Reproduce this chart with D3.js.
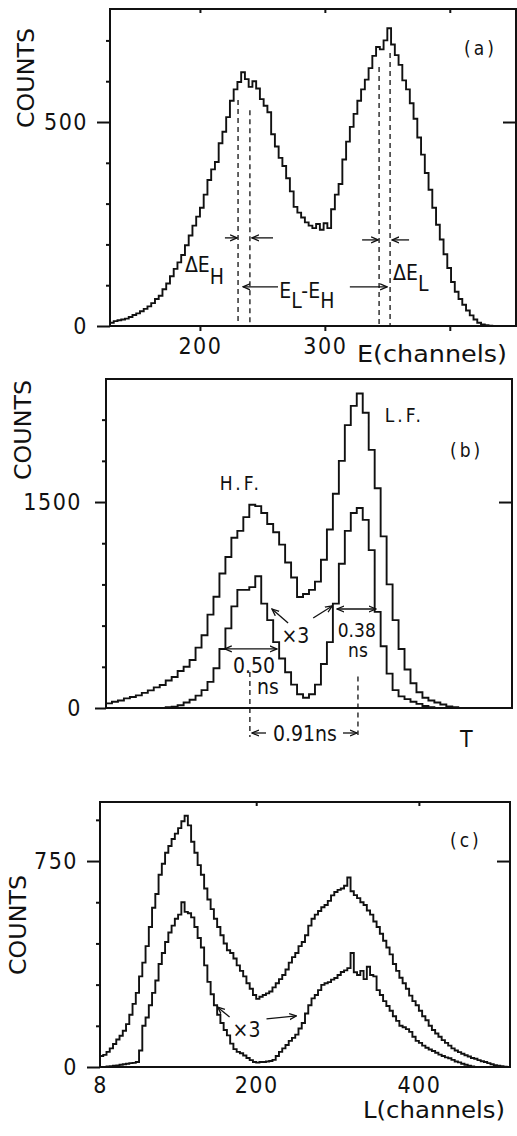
<!DOCTYPE html>
<html>
<head>
<meta charset="utf-8">
<script src="https://cdn.jsdelivr.net/npm/d3@7"></script>
<style>
  body { margin: 0; background: #fff; }
  svg text { font-family: "DejaVu Sans Condensed", "DejaVu Sans", sans-serif; fill: #111; }
  .tick text { font-size: 23px; letter-spacing: 1.5px; }
  .axis-title { font-size: 23px; }
  .note { font-size: 21px; }
  .small { font-size: 19px; }
  .tag { font-size: 19px; letter-spacing: 3px; }
</style>
</head>
<body>
<div id="chart"></div>
<script>
// 1: DATA

// (a) energy spectrum, 3-channel bins starting at channel 128
const eStart = 128, eStep = 3;
const eCounts = [
  8, 12, 14, 16, 18, 22, 27, 31, 36, 42,
  48, 56, 66, 74, 90, 104, 122, 140, 156, 174,
  198, 222, 246, 268, 290, 322, 358, 384, 402, 448,
  476, 512, 552, 580, 598, 622, 605, 586, 600, 582,
  556, 540, 524, 470, 440, 412, 392, 362, 330, 292,
  278, 266, 254, 246, 240, 250, 236, 252, 240, 286,
  322, 348, 408, 452, 488, 520, 552, 580, 604, 632,
  662, 684, 678, 700, 730, 690, 664, 640, 602, 580,
  546, 508, 462, 420, 375, 334, 290, 248, 212, 176,
  142, 108, 84, 66, 52, 38, 26, 16, 8, 4,
  2, 1, 0, 0, 0, 0, 0, 0, 0
];
const eTicksMajor = [0, 500];
const eTicksMinor = [100, 200, 300, 400, 600, 700];
const eXTicks = [200, 300, 400];
const eDashCh = [230.5, 240, 343.4, 352.2];
const eDashTop = [554, 529, 635, 669];

// (b) time spectrum, arbitrary T bins
const tStart = 0, tStep = 1;
const tOuter = [
  34, 46, 55, 70, 80, 92, 110, 128, 150, 167,
  200, 226, 270, 300, 350, 440, 530, 680, 810, 980,
  1100, 1240, 1290, 1390, 1480, 1470, 1420, 1340, 1280, 1190,
  1060, 950, 808, 830, 860, 920, 1080, 1300, 1560, 1800,
  2060, 2200, 2290, 2150, 1880, 1600, 1250, 900, 640, 430,
  280, 180, 115, 75, 55, 40, 25, 12, 5,
  0, 0, 0, 0, 0, 0, 0, 0, 0
];
const tInner = [
  0, 0, 0, 0, 0, 0, 0, 0, 0, 0,
  5, 10, 20, 40, 60, 90, 130, 190, 290, 430,
  580, 740, 860, 860, 880, 960, 760, 640, 480, 360,
  260, 170, 100, 75, 100, 170, 320, 480, 760, 1050,
  1290, 1420, 1456, 1370, 1150, 700, 450, 250, 130, 85,
  65, 45, 30, 15, 5,
  0, 0, 0, 0, 0, 0, 0, 0, 0, 0, 0, 0, 0
];
const tTicksMajor = [0, 1500];
const tTicksMinor = [300, 600, 900, 1200, 1800, 2100];

// (c) L spectrum, 4-channel bins starting at channel 8
const lStart = 8, lStep = 4;
const lOuter = [
  40, 44, 55, 68, 84, 100, 114, 132, 156, 190,
  230, 270, 330, 380, 440, 510, 580, 630, 700, 740,
  780, 805, 830, 850, 870, 895, 915, 880, 820, 780,
  735, 700, 650, 610, 575, 540, 510, 480, 450, 425,
  415, 395, 370, 350, 330, 305, 285, 262, 248, 256,
  262, 268, 275, 290, 305, 320, 335, 355, 380, 400,
  415, 440, 455, 480, 515, 540, 555, 568, 582, 590,
  605, 625, 637, 645, 650, 660, 690, 640, 626, 615,
  600, 590, 570, 555, 530, 510, 485, 460, 435, 410,
  375, 350, 325, 305, 285, 260, 240, 225, 205, 185,
  170, 150, 135, 122, 110, 98, 88, 78, 68, 60,
  54, 48, 43, 38, 33, 30, 25, 21, 18, 14,
  10, 7, 5, 3, 1, 0
];
const lInner = [
  0, 0, 2, 3, 5, 6, 8, 10, 12, 14,
  15, 18, 60, 150, 180, 225, 270, 315, 375, 415,
  455, 490, 515, 540, 555, 600, 565, 560, 545, 510,
  470, 435, 370, 310, 265, 225, 190, 160, 135, 115,
  85, 65, 55, 50, 42, 33, 25, 18, 16, 18,
  18, 20, 22, 26, 40, 55, 68, 80, 95, 106,
  118, 140, 160, 195, 225, 250, 262, 280, 299, 305,
  309, 318, 324, 335, 346, 352, 360, 415, 345, 335,
  350, 320, 365, 335, 330, 280, 262, 240, 222, 205,
  185, 168, 150, 145, 138, 128, 110, 95, 88, 78,
  70, 64, 58, 52, 45, 40, 35, 32, 26, 20,
  17, 12, 8, 5, 2, 0, 0, 0, 0, 0,
  0, 0, 0, 0, 0, 0
];
const lTicksMajor = [0, 750];
const lTicksMinor = [150, 300, 450, 600, 900];
const lXTicks = [8, 200, 400];

// 2: SVG + PANELS
const svg = d3.select("#chart").append("svg")
  .attr("width", 517)
  .attr("height", 1136);

const defs = svg.append("defs");
defs.append("marker")
  .attr("id", "arr")
  .attr("viewBox", "0 -4 8 8")
  .attr("refX", 7).attr("refY", 0)
  .attr("markerWidth", 8).attr("markerHeight", 8)
  .attr("markerUnits", "userSpaceOnUse")
  .attr("orient", "auto-start-reverse")
  .append("path")
  .attr("d", "M0,-3L7,0L0,3")
  .attr("fill", "none")
  .attr("stroke", "#111")
  .attr("stroke-width", 1.3);

const pA = { left: 110, top: 9, width: 406, height: 317 };
const pB = { left: 106, top: 379, width: 406, height: 329 };
const pC = { left: 100, top: 802, width: 410, height: 265 };

const xA = d3.scaleLinear().domain([128, 453]).range([pA.left, pA.left + pA.width]);
const yA = d3.scaleLinear().domain([0, 777]).range([pA.top + pA.height, pA.top]);
const xB = d3.scaleLinear().domain([0, 68]).range([pB.left, pB.left + pB.width]);
const yB = d3.scaleLinear().domain([0, 2396]).range([pB.top + pB.height, pB.top]);
const xC = d3.scaleLinear().domain([8, 512]).range([pC.left, pC.left + pC.width]);
const yC = d3.scaleLinear().domain([0, 965]).range([pC.top + pC.height, pC.top]);

function histPath(x, y, start, step, vals) {
  const pts = vals.map((v, i) => [start + i * step, v]);
  pts.push([start + vals.length * step, vals[vals.length - 1]]);
  return d3.line()
    .x(d => x(d[0]))
    .y(d => y(d[1]))
    .curve(d3.curveStepAfter)(pts);
}

function frame(p, id) {
  defs.append("clipPath").attr("id", id)
    .append("rect")
    .attr("x", p.left).attr("y", p.top)
    .attr("width", p.width).attr("height", p.height);
  svg.append("rect")
    .attr("x", p.left).attr("y", p.top)
    .attr("width", p.width).attr("height", p.height)
    .attr("fill", "none")
    .attr("stroke", "#111")
    .attr("stroke-width", 2);
}

function yAxes(p, y, major, minor, majorLen, pad) {
  const left = svg.append("g").attr("transform", `translate(${p.left},0)`);
  left.call(d3.axisLeft(y).tickValues(minor).tickSize(4).tickFormat(""));
  left.call(g => g.select(".domain").remove());
  const leftMaj = svg.append("g").attr("transform", `translate(${p.left},0)`);
  leftMaj.call(d3.axisLeft(y).tickValues(major).tickSize(majorLen).tickPadding(pad).tickFormat(d3.format("d")));
  leftMaj.call(g => g.select(".domain").remove());
  // right side ticks point inward
  const right = svg.append("g").attr("transform", `translate(${p.left + p.width},0)`);
  right.call(d3.axisLeft(y).tickValues(minor).tickSize(3).tickFormat(""));
  right.call(d3.axisLeft(y).tickValues(major.filter(d => d > 0)).tickSize(13).tickFormat(""));
  right.call(g => g.selectAll(".domain").remove());
}

function counts(x, y) {
  svg.append("text")
    .attr("class", "axis-title")
    .attr("transform", `translate(${x},${y}) rotate(-90)`)
    .attr("text-anchor", "middle")
    .attr("dy", "0.36em")
    .attr("textLength", 100)
    .attr("lengthAdjust", "spacingAndGlyphs")
    .text("COUNTS");
}

function hist(x, y, start, step, vals, clip) {
  svg.append("path")
    .attr("d", histPath(x, y, start, step, vals))
    .attr("clip-path", `url(#${clip})`)
    .attr("fill", "none")
    .attr("stroke", "#111")
    .attr("stroke-width", 1.9)
    .attr("stroke-linejoin", "miter");
}

function arrow(x1, y1, x2, y2, both) {
  const l = svg.append("line")
    .attr("x1", x1).attr("y1", y1).attr("x2", x2).attr("y2", y2)
    .attr("stroke", "#111").attr("stroke-width", 1.3)
    .attr("marker-end", "url(#arr)");
  if (both) l.attr("marker-start", "url(#arr)");
}

function dashed(x, y1, y2) {
  svg.append("line")
    .attr("x1", x).attr("x2", x).attr("y1", y1).attr("y2", y2)
    .attr("stroke", "#111").attr("stroke-width", 1.3)
    .attr("stroke-dasharray", "5,4");
}

function label(x, y, txt, cls, anchor) {
  return svg.append("text")
    .attr("class", cls)
    .attr("x", x).attr("y", y)
    .attr("text-anchor", anchor || "start")
    .text(txt);
}

// 3: PANEL (a)
frame(pA, "clipA");
hist(xA, yA, eStart, eStep, eCounts, "clipA");
yAxes(pA, yA, eTicksMajor, eTicksMinor, 13, 9);

svg.append("g")
  .attr("transform", `translate(0,${pA.top + pA.height})`)
  .call(d3.axisBottom(xA).tickValues(eXTicks.slice(0, 2)).tickSize(5).tickPadding(7).tickFormat(d3.format("d")))
  .call(g => g.select(".domain").remove());
svg.append("g")
  .attr("transform", `translate(0,${pA.top + pA.height})`)
  .call(d3.axisBottom(xA).tickValues([400]).tickSize(5).tickFormat(""))
  .call(g => g.select(".domain").remove());
svg.append("g")
  .attr("transform", `translate(0,${pA.top})`)
  .call(d3.axisBottom(xA).tickValues(eXTicks).tickSize(4).tickFormat(""))
  .call(g => g.select(".domain").remove());

counts(26, 78);
label(357, 362, "E(channels)", "axis-title").attr("textLength", 150).attr("lengthAdjust", "spacingAndGlyphs");
label(464, 55, "(a)", "tag");

eDashCh.forEach((c, i) => dashed(xA(c), yA(eDashTop[i]), yA(0)));
arrow(xA(220), yA(216), xA(229.7), yA(216));
arrow(xA(258.5), yA(216), xA(241.7), yA(216));
arrow(xA(329.8), yA(211), xA(342.6), yA(211));
arrow(xA(367.4), yA(211), xA(353.8), yA(211));
arrow(xA(262.5), yA(96), xA(234.5), yA(96));
arrow(xA(320), yA(96), xA(349.8), yA(96));

const dEH = label(xA(188), yA(132), "ΔE", "note");
dEH.append("tspan").attr("dy", "0.55em").text("H");
const dEL = label(xA(354.6), yA(113), "ΔE", "note");
dEL.append("tspan").attr("dy", "0.55em").text("L");
const eLH = label(xA(263.5), yA(68), "E", "note");
eLH.append("tspan").attr("dy", "0.45em").text("L");
eLH.append("tspan").attr("dy", "-0.45em").text("-E");
eLH.append("tspan").attr("dy", "0.45em").text("H");

// 4: PANEL (b)
frame(pB, "clipB");
hist(xB, yB, tStart, tStep, tOuter, "clipB");
hist(xB, yB, tStart, tStep, tInner, "clipB");
yAxes(pB, yB, tTicksMajor, tTicksMinor, 11, 13);

counts(23, 430);
label(460, 747, "T", "axis-title");
label(xB(22.6), yB(1587), "H.F.", "tag", "middle");
label(xB(46.7), yB(2082), "L.F.", "tag");
label(450, 457, "(b)", "tag");

label(xB(29.4), yB(470), "×3", "note");
arrow(xB(30.5), yB(619), xB(27.8), yB(721));
arrow(xB(34.7), yB(655), xB(37.9), yB(743));

arrow(xB(19.9), yB(430), xB(28.6), yB(430), true);
label(xB(24.8), yB(255), "0.50", "note", "middle");
label(xB(25.3), yB(100), "ns", "note");
arrow(xB(38.7), yB(721), xB(45.2), yB(721), true);
label(xB(42), yB(520), "0.38", "small", "middle");
label(xB(42.2), yB(370), "ns", "small", "middle");

dashed(xB(24.1), yB(262), 737);
dashed(xB(42.2), yB(230), 735);
arrow(266, 733, 252, 733);
arrow(343, 733, 357, 733);
label(305, 741, "0.91ns", "note", "middle");

// 5: PANEL (c)
frame(pC, "clipC");
hist(xC, yC, lStart, lStep, lOuter, "clipC");
hist(xC, yC, lStart, lStep, lInner, "clipC");
yAxes(pC, yC, lTicksMajor, lTicksMinor, 13, 9);

svg.append("g")
  .attr("transform", `translate(0,${pC.top + pC.height})`)
  .call(d3.axisBottom(xC).tickValues(lXTicks).tickSize(0).tickPadding(10).tickFormat(d3.format("d")))
  .call(g => g.select(".domain").remove());
svg.append("g")
  .attr("transform", `translate(0,${pC.top})`)
  .call(d3.axisBottom(xC).tickValues(lXTicks.slice(1)).tickSize(4).tickFormat(""))
  .call(g => g.select(".domain").remove());

counts(18, 925);
label(363, 1118, "L(channels)", "axis-title").attr("textLength", 142).attr("lengthAdjust", "spacingAndGlyphs");
label(450, 847, "(c)", "tag");

label(xC(171), yC(109), "×3", "note");
arrow(xC(167.3), yC(182), xC(152.6), yC(218));
arrow(xC(212.7), yC(175), xC(249.4), yC(186));

svg.selectAll(".tick line").attr("stroke", "#111").attr("stroke-width", 2);
svg.selectAll("g").attr("font-family", null).attr("font-size", null);
</script>
</body>
</html>
